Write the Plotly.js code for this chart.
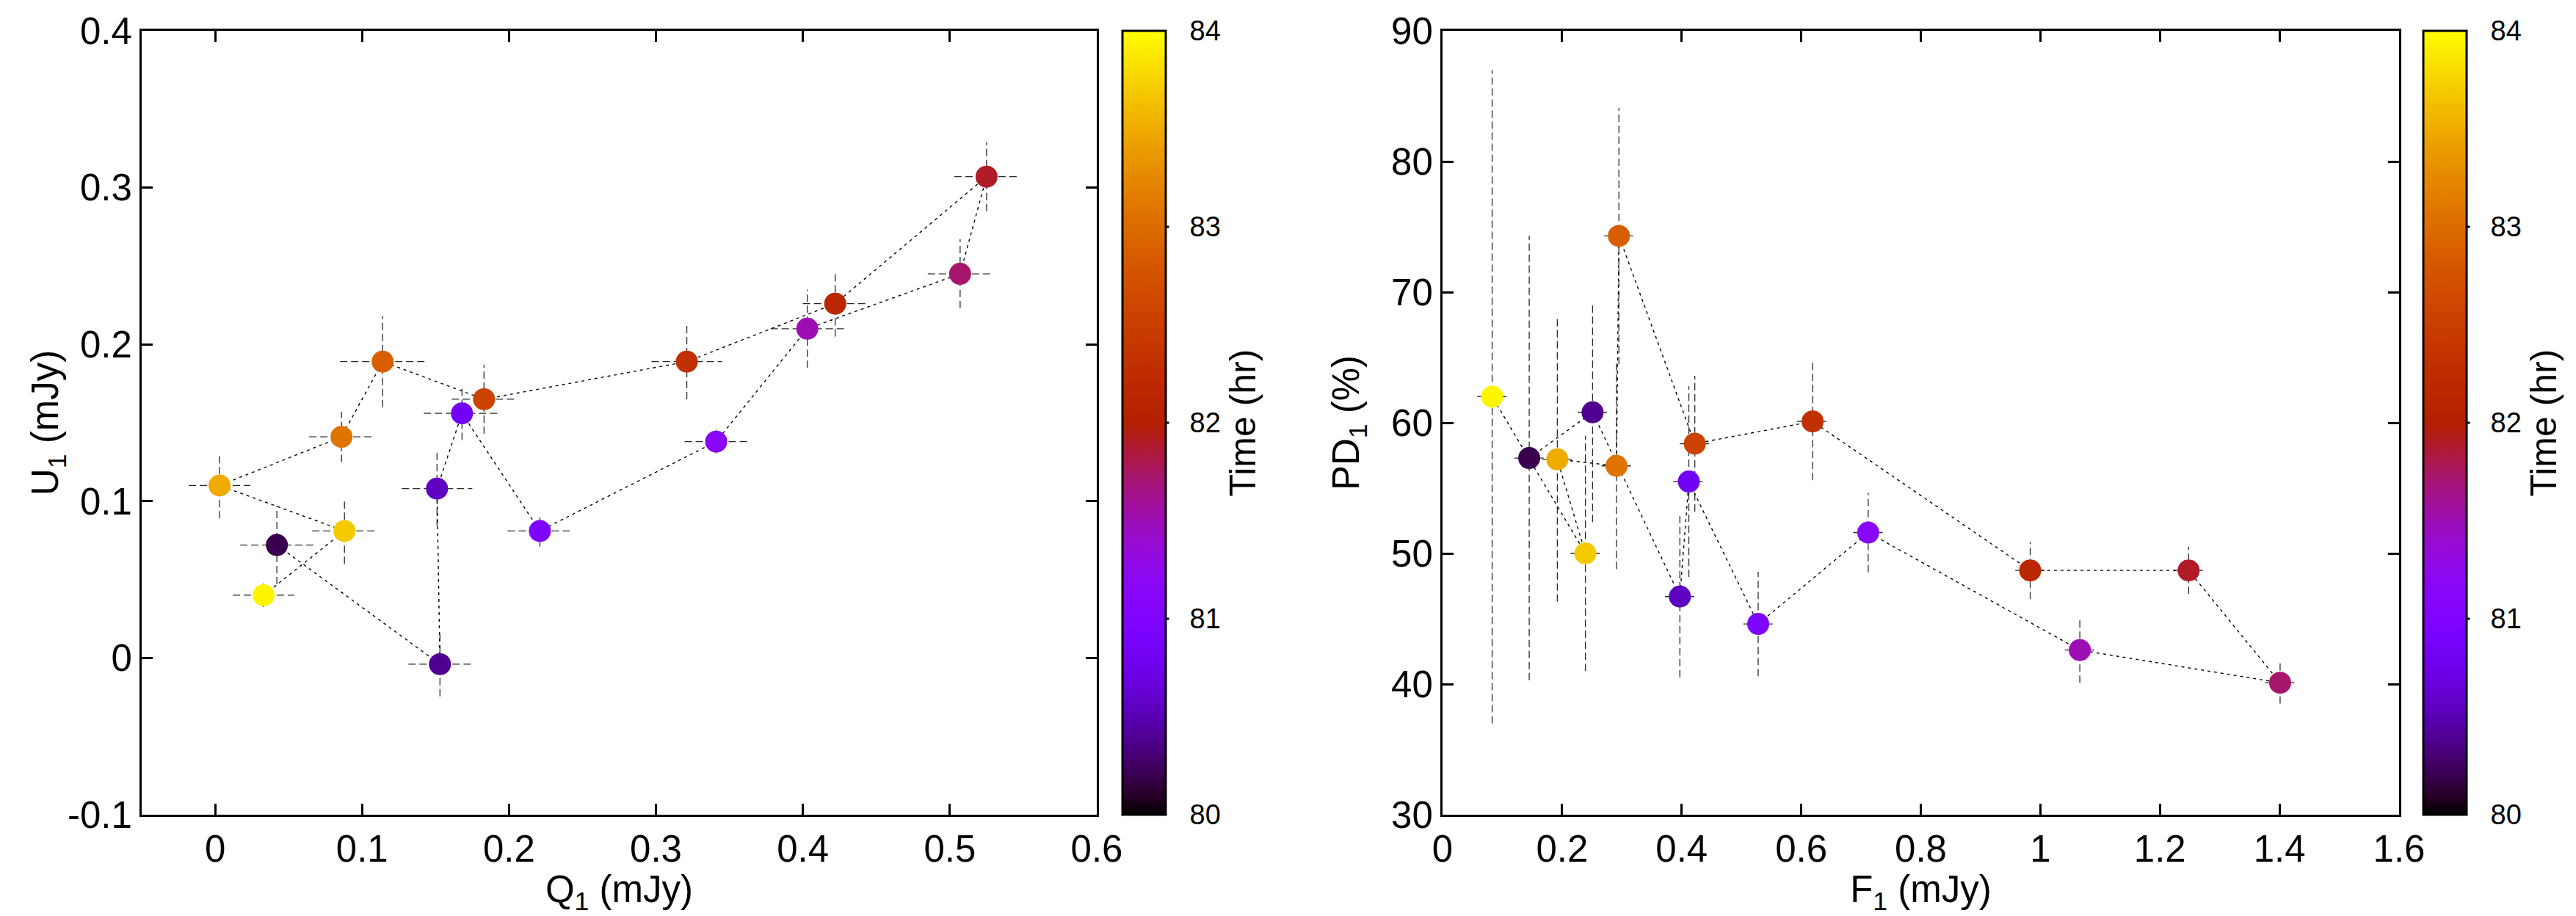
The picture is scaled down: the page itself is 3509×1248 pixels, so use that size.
<!DOCTYPE html>
<html>
<head>
<meta charset="utf-8">
<script src="https://cdn.plot.ly/plotly-3.0.1.min.js"></script>
<style>html,body{margin:0;padding:0;background:#fff;}#chart{width:3509px;height:1248px;}</style>
</head>
<body>
<div id="chart"></div>
<script>
// ---- data ----
const timeHr = [80.2, 80.38, 80.55, 80.8, 80.95, 81.17, 81.5, 81.72, 81.9, 82.12, 82.3, 82.56, 82.88, 83.08, 83.5, 83.7, 83.95];
// left panel: Stokes Q1, U1 (mJy)
const Q1   = [0.042, 0.153, 0.151, 0.168, 0.221, 0.341, 0.403, 0.507, 0.525, 0.422, 0.321, 0.183, 0.114, 0.086, 0.003, 0.088, 0.033];
const U1   = [0.072, -0.004, 0.108, 0.156, 0.081, 0.138, 0.210, 0.245, 0.307, 0.226, 0.189, 0.165, 0.189, 0.141, 0.110, 0.081, 0.040];
const Qerr = [0.025, 0.0215, 0.024, 0.026, 0.022, 0.0215, 0.025, 0.022, 0.022, 0.022, 0.024, 0.022, 0.029, 0.022, 0.021, 0.022, 0.021];
const Uerr = [0.025, 0.0205, 0.024, 0.017, 0.010, 0.0075, 0.025, 0.022, 0.022, 0.021, 0.024, 0.022, 0.029, 0.016, 0.021, 0.021, 0.0075];
// right panel: flux F1 (mJy) and polarisation degree PD1 (%)
const F1    = [0.145, 0.251, 0.397, 0.412, 0.528, 0.712, 1.066, 1.401, 1.248, 0.983, 0.619, 0.422, 0.295, 0.291, 0.192, 0.239, 0.083];
const PD1   = [57.3, 60.8, 46.7, 55.5, 44.6, 51.6, 42.6, 40.1, 48.7, 48.7, 60.1, 58.4, 74.3, 56.7, 57.2, 50.0, 62.0];
const Ferr  = [0.025, 0.025, 0.025, 0.026, 0.025, 0.025, 0.025, 0.025, 0.025, 0.025, 0.026, 0.025, 0.025, 0.025, 0.025, 0.025, 0.025];
const PDerr = [17.0, 8.4, 6.2, 7.3, 4.0, 3.05, 2.5, 1.6, 1.8, 2.2, 4.5, 5.2, 9.8, 7.9, 10.9, 9.0, 25.0];
// ticks
const qTicks  = [0, 0.1, 0.2, 0.3, 0.4, 0.5, 0.6];
const qText   = ['0', '0.1', '0.2', '0.3', '0.4', '0.5', '0.6'];
const uTicks  = [-0.1, 0, 0.1, 0.2, 0.3, 0.4];
const uText   = ['-0.1', '0', '0.1', '0.2', '0.3', '0.4'];
const fTicks  = [0, 0.2, 0.4, 0.6, 0.8, 1, 1.2, 1.4, 1.6];
const fText   = ['0', '0.2', '0.4', '0.6', '0.8', '1', '1.2', '1.4', '1.6'];
const pdTicks = [30, 40, 50, 60, 70, 80, 90];
const cbTicks = [80, 81, 82, 83, 84];

// ---- gnuplot default pm3d palette (rgbformulae 7,5,15) ----
const palette = [];
for (let i = 0; i <= 40; i++) {
  const s = i / 40;
  const r = Math.round(255 * Math.sqrt(s));
  const g = Math.round(255 * Math.pow(s, 3));
  const b = Math.round(255 * Math.max(0, Math.sin(2 * Math.PI * s)));
  palette.push([s, `rgb(${r},${g},${b})`]);
}

function hSegs(x, y, e) { const xs = [], ys = []; x.forEach((v, i) => { xs.push(v - e[i], v + e[i], null); ys.push(y[i], y[i], null); }); return {xs, ys}; }
function vSegs(x, y, e) { const xs = [], ys = []; x.forEach((v, i) => { xs.push(v, v, null); ys.push(y[i] - e[i], y[i] + e[i], null); }); return {xs, ys}; }

const W = 3509, H = 1248;
const yDom = [(H - 1110) / H, (H - 42) / H];
const xDomL = [193 / W, 1494 / W];
const xDomR = [1965 / W, 3268 / W];
const cbLen = yDom[1] - yDom[0];
const cbL = 1529 / W, cbR = 3301 / W;
const cbThick = 59;
const FONT = 'Liberation Sans, Arial, Helvetica, sans-serif';

const errStyle = {color: '#2a2a2a', width: 1.3, dash: '10px,5px'};
const lineStyle = {color: '#000', width: 1.4, dash: '4px,5px'};

function colorbar(x) {
  return {
    x: x, xanchor: 'left', xpad: 0, ypad: 0,
    y: yDom[0], yanchor: 'bottom', len: cbLen, lenmode: 'fraction',
    thickness: cbThick, thicknessmode: 'pixels',
    outlinewidth: 3, outlinecolor: '#000',
    tickvals: cbTicks, ticks: 'outside', ticklen: 24, tickwidth: 1, tickcolor: 'rgba(0,0,0,0)',
    tickfont: {family: FONT, size: 38, color: '#000'},
    title: {text: 'Time (hr)', side: 'right', font: {family: FONT, size: 50, color: '#000'}}
  };
}

const hL = hSegs(Q1, U1, Qerr), vL = vSegs(Q1, U1, Uerr);
const hR = hSegs(F1, PD1, Ferr), vR = vSegs(F1, PD1, PDerr);

const traces = [
  {x: hL.xs, y: hL.ys, mode: 'lines', line: errStyle, xaxis: 'x', yaxis: 'y', hoverinfo: 'skip', showlegend: false},
  {x: vL.xs, y: vL.ys, mode: 'lines', line: errStyle, xaxis: 'x', yaxis: 'y', hoverinfo: 'skip', showlegend: false},
  {x: Q1, y: U1, mode: 'lines', line: lineStyle, xaxis: 'x', yaxis: 'y', showlegend: false},
  {x: Q1, y: U1, mode: 'markers', xaxis: 'x', yaxis: 'y', showlegend: false,
   marker: {size: 30, color: timeHr, colorscale: palette, cmin: 80, cmax: 84, showscale: true, colorbar: colorbar(cbL), line: {width: 0}}},
  {x: hR.xs, y: hR.ys, mode: 'lines', line: errStyle, xaxis: 'x2', yaxis: 'y2', hoverinfo: 'skip', showlegend: false},
  {x: vR.xs, y: vR.ys, mode: 'lines', line: errStyle, xaxis: 'x2', yaxis: 'y2', hoverinfo: 'skip', showlegend: false},
  {x: F1, y: PD1, mode: 'lines', line: lineStyle, xaxis: 'x2', yaxis: 'y2', showlegend: false},
  {x: F1, y: PD1, mode: 'markers', xaxis: 'x2', yaxis: 'y2', showlegend: false,
   marker: {size: 30, color: timeHr, colorscale: palette, cmin: 80, cmax: 84, showscale: true, colorbar: colorbar(cbR), line: {width: 0}}}
];

const axBase = {
  showline: true, linewidth: 3, linecolor: '#000', mirror: 'allticks',
  ticks: 'inside', ticklen: 15, tickwidth: 3, tickcolor: '#000',
  showgrid: false, zeroline: false,
  tickfont: {family: FONT, size: 51, color: '#000'}
};
const titleFont = {family: FONT, size: 51, color: '#000'};

// inner ticks on both edges of each colour bar (gnuplot style)
const shapes = [];
[cbL, cbR].forEach(x0 => {
  const left = x0 + 1.5 / W, right = x0 + (cbThick + 4.5) / W;
  cbTicks.slice(1, -1).forEach(v => {
    const y = yDom[0] + (v - 80) / 4 * cbLen;
    shapes.push({type: 'line', xref: 'paper', yref: 'paper', x0: left, x1: left + 15 / W, y0: y, y1: y, line: {color: '#000', width: 3}});
    shapes.push({type: 'line', xref: 'paper', yref: 'paper', x0: right - 15 / W, x1: right, y0: y, y1: y, line: {color: '#000', width: 3}});
  });
});

const layout = {
  width: W, height: H,
  margin: {l: 0, r: 0, t: 0, b: 0},
  paper_bgcolor: '#fff', plot_bgcolor: '#fff',
  font: {family: FONT, color: '#000'},
  showlegend: false,
  xaxis: Object.assign({}, axBase, {domain: xDomL, range: [-0.05, 0.6], tickvals: qTicks, ticktext: qText, anchor: 'y',
    title: {text: 'Q<sub>1</sub> (mJy)', font: titleFont, standoff: 0}}),
  yaxis: Object.assign({}, axBase, {domain: yDom, range: [-0.1, 0.4], tickvals: uTicks, ticktext: uText, anchor: 'x',
    title: {text: 'U<sub>1</sub> (mJy)', font: titleFont}}),
  xaxis2: Object.assign({}, axBase, {domain: xDomR, range: [0, 1.6], tickvals: fTicks, ticktext: fText, anchor: 'y2',
    title: {text: 'F<sub>1</sub> (mJy)', font: titleFont, standoff: 0}}),
  yaxis2: Object.assign({}, axBase, {domain: yDom, range: [30, 90], tickvals: pdTicks, anchor: 'x2',
    title: {text: 'PD<sub>1</sub> (%)', font: titleFont}}),
  shapes: shapes
};

Plotly.newPlot('chart', traces, layout, {staticPlot: true, displayModeBar: false});
</script>
</body>
</html>
